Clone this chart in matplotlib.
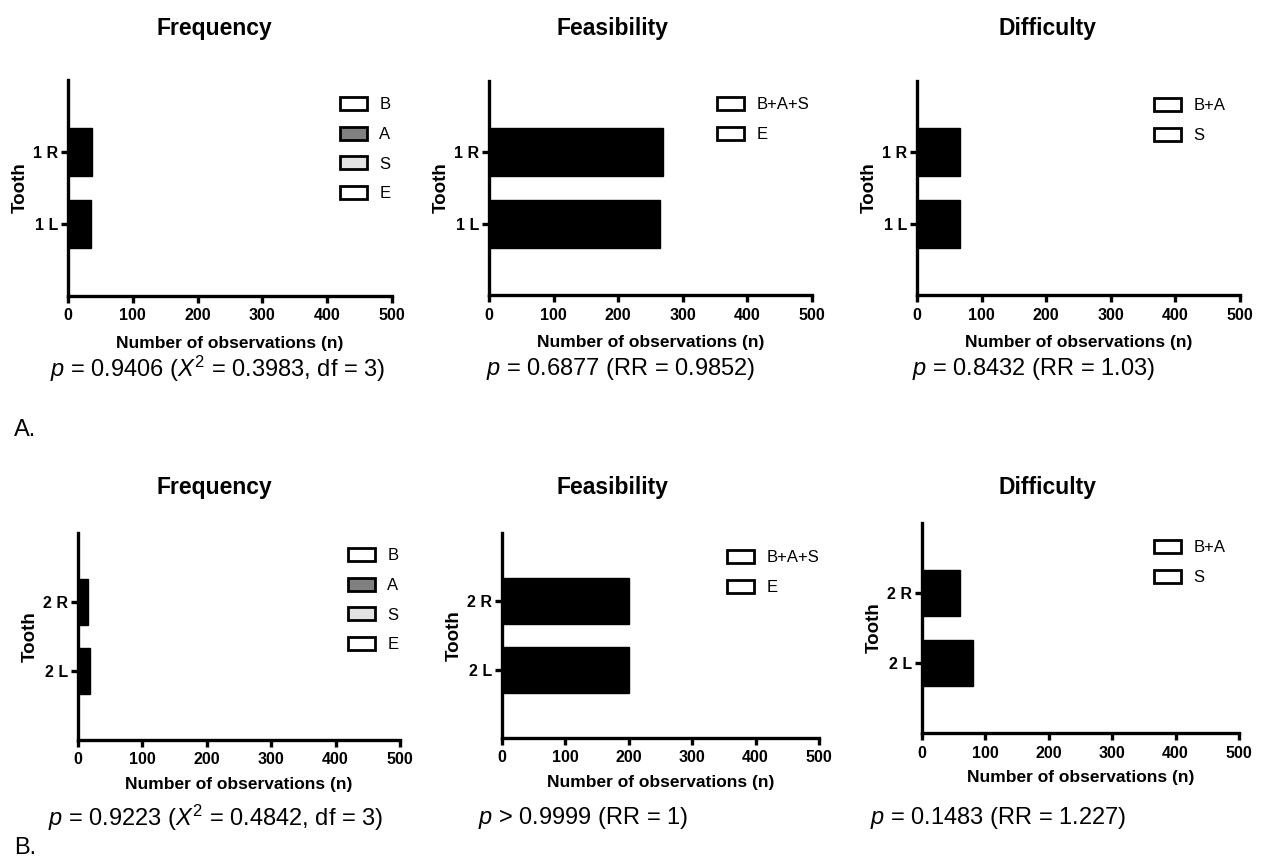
import matplotlib
matplotlib.use("Agg")
import matplotlib.pyplot as plt
from matplotlib.patches import Patch

plt.rcParams['font.family'] = ['Liberation Sans', 'DejaVu Sans']
plt.rcParams['mathtext.fontset'] = 'custom'
plt.rcParams['mathtext.rm'] = 'Liberation Sans'
plt.rcParams['mathtext.it'] = 'Liberation Sans:italic'
plt.rcParams['mathtext.bf'] = 'Liberation Sans:bold'

# ---------------- data ----------------
titles = ["Frequency", "Feasibility", "Difficulty"]
teeth_A = ["1 L", "1 R"]
teeth_B = ["2 L", "2 R"]

freq_A = [35, 37]
feas_A = [265, 269]
diff_A = [67, 67]

freq_B = [19, 16]
feas_B = [200, 200]
diff_B = [80, 60]

legend_freq = ["B", "A", "S", "E"]
legend_freq_colors = ["#ffffff", "#808080", "#e3e3e3", "#ffffff"]
legend_feas = ["B+A+S", "E"]
legend_diff = ["B+A", "S"]

stats_A = [r"$\it{p}$ = 0.9406 ($\it{X}^{2}$ = 0.3983, df = 3)",
           r"$\it{p}$ = 0.6877 (RR = 0.9852)",
           r"$\it{p}$ = 0.8432 (RR = 1.03)"]
stats_B = [r"$\it{p}$ = 0.9223 ($\it{X}^{2}$ = 0.4842, df = 3)",
           r"$\it{p}$ > 0.9999 (RR = 1)",
           r"$\it{p}$ = 0.1483 (RR = 1.227)"]

xticks = [0, 100, 200, 300, 400, 500]

# ---------------- layout ----------------
W, H = 1262, 864
fig = plt.figure(figsize=(W / 100, H / 100), dpi=100)

def px_axes(left, right, top, bottom):
    return fig.add_axes([left / W, 1 - bottom / H, (right - left) / W, (bottom - top) / H])

boxes_A = [(68, 392, 80, 296), (489, 812, 81, 295), (917, 1240, 81, 295)]
boxes_B = [(78, 400, 533, 740), (502, 819, 533, 738), (922, 1239, 523, 733)]
stat_pos_A = [(50, 369), (486, 369), (912, 369)]
stat_pos_B = [(48, 818), (478, 818), (870, 818)]
title_pos_A = [(214, 28), (613, 28), (1047, 28)]
title_pos_B = [(214, 488), (613, 488), (1048, 488)]
legend_pos_A = [(340, 103), (717, 103), (1154, 104)]
legend_pos_B = [(348, 554), (727, 556), (1154, 546)]
xlabel_pad_A = 9
xlabel_pad_B = 7


def draw_panel(box, labels, values, leg_labels, leg_colors, stat, stat_xy,
               title, title_xy, leg_xy, xpad):
    ax = px_axes(*box)
    ypos = list(range(len(labels)))
    ax.barh(ypos, values, height=0.67, color="black", edgecolor="black")
    ax.set_xlim(0, 500)
    ax.set_ylim(-1, 2)
    ax.set_xticks(xticks)
    ax.set_xticklabels([str(t) for t in xticks], fontsize=11.5, fontweight="bold")
    ax.set_yticks(ypos)
    ax.set_yticklabels(labels, fontsize=11.5, fontweight="bold")
    for s in ["top", "right"]:
        ax.spines[s].set_visible(False)
    for s in ["left", "bottom"]:
        ax.spines[s].set_linewidth(2.4)
    ax.tick_params(axis="x", width=2.4, length=5, pad=4)
    ax.tick_params(axis="y", width=2.4, length=5, pad=2)
    ax.set_xlabel("Number of observations (n)", fontsize=12.5, fontweight="bold", labelpad=xpad)
    ax.set_ylabel("Tooth", fontsize=13.5, fontweight="bold", labelpad=3)
    handles = [Patch(facecolor=c, edgecolor="black", linewidth=2.0, label=l)
               for l, c in zip(leg_labels, leg_colors)]
    ax.legend(handles=handles, loc="upper left",
              bbox_to_anchor=(leg_xy[0] / W, 1 - (leg_xy[1] - 6) / H),
              bbox_transform=fig.transFigure,
              frameon=False, fontsize=12, handlelength=1.6, handleheight=0.85,
              handletextpad=0.75, labelspacing=0.85, borderaxespad=0.0, borderpad=0.0)
    fig.text(stat_xy[0] / W, 1 - stat_xy[1] / H, stat, fontsize=17, ha="left", va="center")
    fig.text(title_xy[0] / W, 1 - title_xy[1] / H, title, fontsize=16.5, fontweight="bold",
             ha="center", va="center")
    return ax

datasets_A = [freq_A, feas_A, diff_A]
datasets_B = [freq_B, feas_B, diff_B]
legends = [(legend_freq, legend_freq_colors),
           (legend_feas, ["#ffffff"] * len(legend_feas)),
           (legend_diff, ["#ffffff"] * len(legend_diff))]

for i in range(3):
    draw_panel(boxes_A[i], teeth_A, datasets_A[i], legends[i][0], legends[i][1],
               stats_A[i], stat_pos_A[i], titles[i], title_pos_A[i], legend_pos_A[i], xlabel_pad_A)
    draw_panel(boxes_B[i], teeth_B, datasets_B[i], legends[i][0], legends[i][1],
               stats_B[i], stat_pos_B[i], titles[i], title_pos_B[i], legend_pos_B[i], xlabel_pad_B)

fig.text(14 / W, 1 - 430 / H, "A.", fontsize=17, ha="left", va="center")
fig.text(14 / W, 1 - 848 / H, "B.", fontsize=17, ha="left", va="center")

fig.savefig("out.png", dpi=100)
